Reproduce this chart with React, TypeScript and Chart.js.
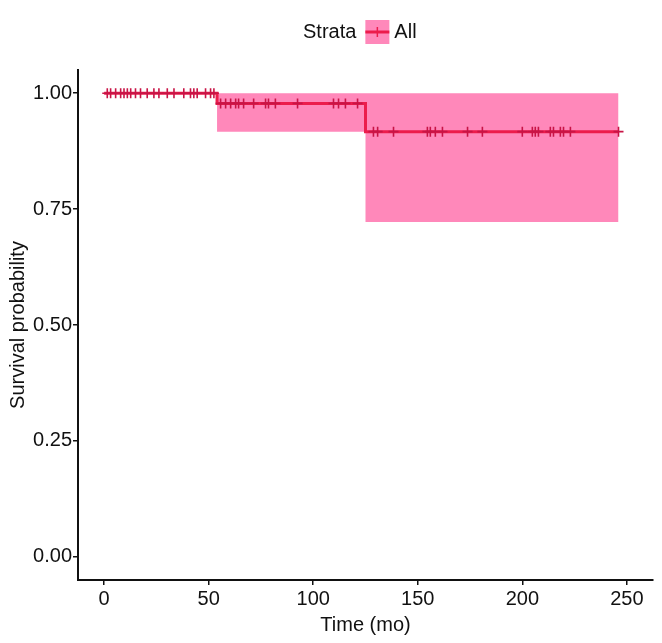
import React, { useEffect, useRef } from "react";
import { Chart, registerables } from "chart.js";

Chart.register(...registerables);

// Kaplan-Meier step curve (event times and survival after each)
const stepTimes = [0, 54, 125, 246];
const survival = [1, 0.978, 0.917, 0.917];
const lowerCI = [1, 0.917, 0.722, 0.722];
const upperCI = [1, 1, 1, 1];

// Censoring times (months)
const censorTimes = [
  1.5, 3.1, 5.5, 7.9, 9.5, 11.1, 12.7, 15, 17.4, 20.6, 23.8, 26.2, 30.2, 33.4,
  38.1, 41.3, 42.9, 44.5, 48.5, 50.9, 52.5,
  55.7, 58.1, 60.5, 62.9, 64.3, 66.7, 71.5, 77.2, 78.6, 81.9, 92.5, 109.7,
  112.1, 115.4, 121.2,
  128.8, 130.8, 138.4, 154.6, 156.0, 158.4, 161.8, 173.8, 180.9, 200.0, 204.8,
  206.2, 207.7, 213.4, 214.9, 218.2, 219.7, 223.0, 246,
];

const xTicks = [0, 50, 100, 150, 200, 250];
const yTicks = [0, 0.25, 0.5, 0.75, 1];

const LINE = "rgb(236,28,76)";
const BAND = "rgba(255,130,182,0.95)";
const FONT = "'Liberation Sans', Arial, Helvetica, sans-serif";
const FS = 20;

function survAt(t: number): number {
  let s = survival[0];
  for (let i = 0; i < stepTimes.length; i++) {
    if (stepTimes[i] <= t) s = survival[i];
  }
  return s;
}

const legendPlugin = {
  id: "strataLegend",
  afterDraw(chart: any) {
    const ctx = chart.ctx;
    const cy = 32;
    ctx.save();
    ctx.font = `${FS}px ${FONT}`;
    ctx.fillStyle = "#111";
    ctx.textBaseline = "middle";
    ctx.textAlign = "left";
    const wStrata = ctx.measureText("Strata").width;
    const sw = 24;
    let x = 303;
    ctx.fillText("Strata", x, cy);
    x += wStrata + 9;
    ctx.fillStyle = BAND;
    ctx.fillRect(x, cy - sw / 2, sw, sw);
    ctx.strokeStyle = LINE;
    ctx.lineWidth = 3;
    ctx.beginPath();
    ctx.moveTo(x, cy);
    ctx.lineTo(x + sw, cy);
    ctx.stroke();
    ctx.lineWidth = 1.5;
    ctx.beginPath();
    ctx.moveTo(x + sw / 2, cy - 5);
    ctx.lineTo(x + sw / 2, cy + 5);
    ctx.stroke();
    x += sw + 5;
    ctx.fillStyle = "#111";
    ctx.fillText("All", x, cy);
    ctx.restore();
  },
};

export default function App() {
  const ref = useRef<HTMLCanvasElement | null>(null);

  useEffect(() => {
    document.body.style.margin = "0";
    if (!ref.current) return;
    const pts = (ys: number[]) => stepTimes.map((t, i) => ({ x: t, y: ys[i] }));
    const chart = new Chart(ref.current, {
      type: "line",
      data: {
        datasets: [
          {
            label: "lower",
            data: pts(lowerCI),
            stepped: true,
            borderWidth: 0,
            pointRadius: 0,
            fill: false,
            borderColor: "rgba(0,0,0,0)",
            order: 4,
          },
          {
            label: "upper",
            data: pts(upperCI),
            stepped: true,
            borderWidth: 0,
            pointRadius: 0,
            fill: "-1",
            backgroundColor: BAND,
            borderColor: "rgba(0,0,0,0)",
            order: 3,
          },
          {
            label: "All",
            data: pts(survival),
            stepped: true,
            borderColor: LINE,
            borderWidth: 3,
            pointRadius: 0,
            fill: false,
            order: 1,
          },
          {
            label: "censor",
            data: censorTimes.map((t) => ({ x: t, y: survAt(t) })),
            showLine: false,
            pointStyle: "cross",
            pointRadius: 5,
            pointBorderWidth: 1.6,
            pointBorderColor: "rgb(200,20,70)",
            borderColor: LINE,
            fill: false,
            order: 0,
          },
        ],
      },
      options: {
        animation: false,
        responsive: false,
        maintainAspectRatio: false,
        layout: { padding: { top: 70, right: 9, left: 0, bottom: 0 } },
        plugins: {
          legend: { display: false },
          tooltip: { enabled: false },
        },
        scales: {
          x: {
            type: "linear",
            min: -12.5,
            max: 262.5,
            afterBuildTicks: (s: any) => {
              s.ticks = xTicks.map((v) => ({ value: v }));
            },
            afterFit: (s: any) => {
              s.height = 63;
            },
            grid: {
              drawOnChartArea: false,
              drawTicks: true,
              tickLength: 5,
              color: "#111",
              lineWidth: 1.5,
            },
            border: { display: true, color: "#111", width: 2 },
            ticks: {
              color: "#111",
              font: { family: FONT, size: FS },
              padding: 2,
              maxRotation: 0,
            },
            title: {
              display: true,
              text: "Time (mo)",
              color: "#111",
              font: { family: FONT, size: FS },
              padding: { top: 0, bottom: 6 },
            },
          },
          y: {
            type: "linear",
            min: -0.05,
            max: 1.05,
            afterBuildTicks: (s: any) => {
              s.ticks = yTicks.map((v) => ({ value: v }));
            },
            afterFit: (s: any) => {
              s.width = 78;
            },
            grid: {
              drawOnChartArea: false,
              drawTicks: true,
              tickLength: 5,
              color: "#111",
              lineWidth: 1.5,
            },
            border: { display: true, color: "#111", width: 2 },
            ticks: {
              color: "#111",
              font: { family: FONT, size: FS },
              padding: 1,
              callback: (v: any) => Number(v).toFixed(2),
            },
            title: {
              display: true,
              text: "Survival probability",
              color: "#111",
              font: { family: FONT, size: FS },
              padding: { top: 6, bottom: 0 },
            },
          },
        },
      },
      plugins: [legendPlugin],
    });
    return () => chart.destroy();
  }, []);

  return (
    <div style={{ width: 662, height: 643 }}>
      <canvas ref={ref} width={662} height={643} style={{ display: "block" }} />
    </div>
  );
}
